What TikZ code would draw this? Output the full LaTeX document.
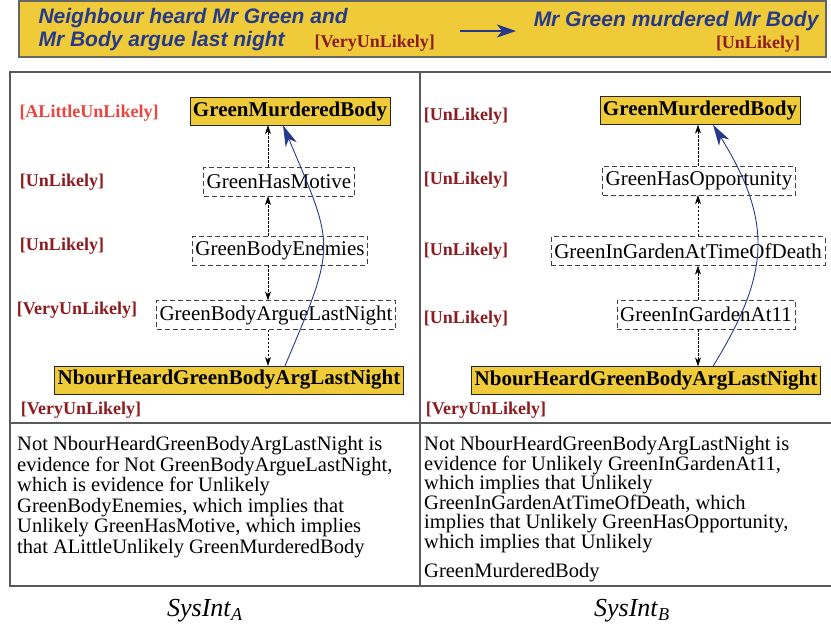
\documentclass[tikz,border=0pt]{standalone}
\usepackage{fontspec}
\setmainfont{Liberation Serif}
\newfontfamily\bannerfont{Liberation Sans}
\usetikzlibrary{arrows.meta}
\definecolor{banner}{RGB}{239,203,58}
\definecolor{inkblue}{RGB}{38,58,140}
\definecolor{likered}{RGB}{140,28,32}
\definecolor{lightred}{RGB}{236,68,62}
\definecolor{rulegray}{RGB}{90,90,90}
\newcommand{\level}[1]{[#1]}
\newcommand{\nodesize}[0]{\fontsize{21}{22}\selectfont}
\newcommand{\levelsize}[0]{\fontsize{18}{20}\selectfont}
\newcommand{\claimfont}[0]{\bannerfont\bfseries\itshape\fontsize{21}{23}\selectfont}

\begin{document}
\begin{tikzpicture}[x=1pt, y=-1pt]
  \tikzset{
    fact/.style={draw=black!85, fill=banner, font=\nodesize\bfseries, inner xsep=3pt, inner ysep=0pt, minimum height=28pt},
    hypo/.style={draw=black!75, dash pattern=on 5pt off 3pt, font=\nodesize, inner xsep=3pt, inner ysep=0pt, minimum height=29pt},
    lvl/.style={text=likered, font=\levelsize\bfseries},
    dep/.style={draw=black, line width=0.6pt, dash pattern=on 2.5pt off 1.5pt, -{Stealth[length=9pt,width=6pt]}},
    infer/.style={draw=inkblue, line width=0.9pt, -{Stealth[length=21pt,width=12pt,inset=6pt]}},
    rule/.style={draw=rulegray, line width=1.4pt},
    para/.style={anchor=north west, align=left, inner sep=0pt, font=\fontsize{20.5}{20.6}\selectfont}
  }
  \useasboundingbox (0,0) rectangle (831,633);
  \draw[draw=black!60, line width=1.5pt, fill=banner] (19,1) rectangle (826,57);
  \node[anchor=west, align=left, text=inkblue, font=\claimfont] (claimE) at (35,29.5) {Neighbour heard Mr Green and\\Mr Body argue last night};
  \node[lvl, anchor=west] (claimElvl) at (311,43) {\level{VeryUnLikely}};
  \node[anchor=east, text=inkblue, font=\claimfont] (claimH) at (822,21) {Mr Green murdered Mr Body};
  \node[lvl] (claimHlvl) at (758,44) {\level{UnLikely}};
  \coordinate (arrS) at (460,31);
  \coordinate (arrE) at (516,31);
  \draw[draw=inkblue, line width=2.5pt, -{Stealth[length=19pt,width=13pt,inset=5pt]}] (arrS) -- (arrE);

  \draw[rule] (831,72) -- (10,72) -- (10,586) -- (831,586);
  \draw[rule] (420,72) -- (420,586);
  \draw[rule] (10,423) -- (831,423);

  \node[fact] (gmbA) at (290,111) {GreenMurderedBody};
  \node[hypo] (motA) at (279,181.5) {GreenHasMotive};
  \node[hypo] (enmA) at (280,250.5) {GreenBodyEnemies};
  \node[hypo] (argA) at (276,315) {GreenBodyArgueLastNight};
  \node[fact] (nbA) at (229,380) {NbourHeardGreenBodyArgLastNight};
  \node[lvl, text=lightred] (lvlA1) at (89,113) {\level{ALittleUnLikely}};
  \node[lvl] (lvlA2) at (62,182) {\level{UnLikely}};
  \node[lvl] (lvlA3) at (62,246) {\level{UnLikely}};
  \node[lvl] (lvlA4) at (77,310) {\level{VeryUnLikely}};
  \node[lvl] (lvlA5) at (81,410) {\level{VeryUnLikely}};
  \coordinate (axA) at (268,0);
  \draw[dep] (motA.north -| axA) -- (gmbA.south -| axA);
  \draw[dep] (enmA.north -| axA) -- (motA.south -| axA);
  \draw[dep] (enmA.south -| axA) -- (argA.north -| axA);
  \draw[dep] (argA.south -| axA) -- (nbA.north -| axA);
  \draw[infer] ([xshift=56pt]nbA.north) .. controls +(52,-123) and +(52,123) .. ([xshift=-7pt]gmbA.south);

  \node[fact] (gmbB) at (700,110.5) {GreenMurderedBody};
  \node[hypo] (oppB) at (699,180.5) {GreenHasOpportunity};
  \node[hypo] (todB) at (688,251) {GreenInGardenAtTimeOfDeath};
  \node[hypo] (at11B) at (706,314.5) {GreenInGardenAt11};
  \node[fact] (nbB) at (646,380.5) {NbourHeardGreenBodyArgLastNight};
  \node[lvl] (lvlB1) at (466,116) {\level{UnLikely}};
  \node[lvl] (lvlB2) at (466,180) {\level{UnLikely}};
  \node[lvl] (lvlB3) at (466,251) {\level{UnLikely}};
  \node[lvl] (lvlB4) at (466,319) {\level{UnLikely}};
  \node[lvl] (lvlB5) at (486,410) {\level{VeryUnLikely}};
  \coordinate (axB) at (698,0);
  \draw[dep] (oppB.north -| axB) -- (gmbB.south -| axB);
  \draw[dep] (todB.north -| axB) -- (oppB.south -| axB);
  \draw[dep] (at11B.north -| axB) -- (todB.south -| axB);
  \draw[dep] (at11B.south -| axB) -- (nbB.north -| axB);
  \draw[infer] ([xshift=67pt]nbB.north) .. controls +(55,-90) and +(62,100) .. ([xshift=13pt]gmbB.south);

  \node[para] (textA) at (17,436) {Not NbourHeardGreenBodyArgLastNight is\\
    evidence for Not GreenBodyArgueLastNight,\\
    which is evidence for Unlikely\\
    GreenBodyEnemies, which implies that\\
    Unlikely GreenHasMotive, which implies\\
    that ALittleUnlikely GreenMurderedBody};
  \node[para, font=\fontsize{20.5}{19.6}\selectfont] (textB) at (424,436) {Not NbourHeardGreenBodyArgLastNight is\\
    evidence for Unlikely GreenInGardenAt11,\\
    which implies that Unlikely\\
    GreenInGardenAtTimeOfDeath, which\\
    implies that Unlikely GreenHasOpportunity,\\
    which implies that Unlikely\\[9pt]
    GreenMurderedBody};
  \node[font=\fontsize{26}{28}\selectfont] (capA) at (205,611) {\textit{SysInt}\textsubscript{\textit{A}}};
  \node[font=\fontsize{26}{28}\selectfont] (capB) at (632,611) {\textit{SysInt}\textsubscript{\textit{B}}};
\end{tikzpicture}
\end{document}
